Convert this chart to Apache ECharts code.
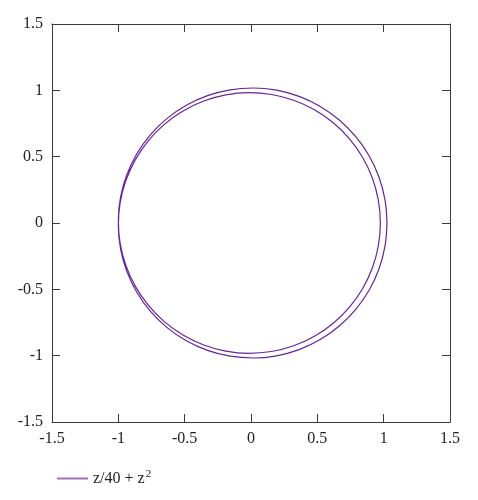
<!DOCTYPE html>
<html>
<head>
<meta charset="utf-8">
<script src="https://cdn.jsdelivr.net/npm/echarts@6/dist/echarts.min.js"></script>
<style>html,body{margin:0;padding:0;background:#fff}#c{width:478px;height:500px}</style>
</head>
<body>
<div id="c"></div>
<script>
// Points (x, y), traversed in order
const curveX = [1.025, 1.0097, 0.9643, 0.8902, 0.7895, 0.6655, 0.5217, 0.3625, 0.1928, 0.0177, -0.1576, -0.3277, -0.4875, -0.6322, -0.7575, -0.8596, -0.9353, -0.9826, -1.0, -0.9870, -0.9440, -0.8725, -0.7746, -0.6534, -0.5125, -0.3564, -0.1897, -0.0177, 0.1545, 0.3215, 0.4783, 0.6201, 0.7425, 0.8419, 0.9151, 0.9599, 0.975,
  0.9599, 0.9151, 0.8419, 0.7425, 0.6201, 0.4783, 0.3215, 0.1545, -0.0177, -0.1897, -0.3564, -0.5125, -0.6534, -0.7746, -0.8725, -0.9440, -0.9870, -1.0, -0.9826, -0.9353, -0.8596, -0.7575, -0.6322, -0.4875, -0.3277, -0.1576, 0.0177, 0.1928, 0.3625, 0.5217, 0.6655, 0.7895, 0.8902, 0.9643, 1.0097, 1.025];
const curveY = [0, 0.1758, 0.3463, 0.5065, 0.6513, 0.7766, 0.8785, 0.9540, 1.0009, 1.0177, 1.0040, 0.9602, 0.8877, 0.7887, 0.6663, 0.5242, 0.3666, 0.1986, 0.025, -0.1488, -0.3174, -0.4759, -0.6193, -0.7434, -0.8444, -0.9192, -0.9657, -0.9823, -0.9687, -0.9254, -0.8535, -0.7555, -0.6342, -0.4935, -0.3377, -0.1715, 0,
  0.1715, 0.3377, 0.4935, 0.6342, 0.7555, 0.8535, 0.9254, 0.9687, 0.9823, 0.9657, 0.9192, 0.8444, 0.7434, 0.6193, 0.4759, 0.3174, 0.1488, -0.025, -0.1986, -0.3666, -0.5242, -0.6663, -0.7887, -0.8877, -0.9602, -1.0040, -1.0177, -1.0009, -0.9540, -0.8785, -0.7766, -0.6513, -0.5065, -0.3463, -0.1758, 0];
const xTicks = [-1.5, -1, -0.5, 0, 0.5, 1, 1.5];
const yTicks = [-1.5, -1, -0.5, 0, 0.5, 1, 1.5];
const seriesName = 'z/40 + z2';

const font = '"Liberation Serif", "DejaVu Serif", serif';
const axisCol = '#3a3a3a';
const data = curveX.map((x, i) => [x, curveY[i]]);

function mkAxis(pos, show, isX) {
  const t = isX ? xTicks : yTicks;
  return {
    type: 'value', position: pos, min: t[0], max: t[t.length - 1], interval: 0.5,
    axisLine: { show: true, onZero: false, lineStyle: { color: axisCol, width: 1 } },
    axisTick: { show: true, inside: true, length: 8, lineStyle: { color: axisCol, width: 1 } },
    axisLabel: { show: show, color: '#222', fontFamily: font, fontSize: 16, margin: 9 },
    splitLine: { show: false }
  };
}

const chart = echarts.init(document.getElementById('c'), null, { renderer: 'canvas' });
chart.setOption({
  animation: false,
  backgroundColor: '#fff',
  grid: { left: 52, right: 28, top: 24, bottom: 78, containLabel: false },
  xAxis: [mkAxis('bottom', true, true), mkAxis('top', false, true)],
  yAxis: [mkAxis('left', true, false), mkAxis('right', false, false)],
  legend: {
    left: 52, top: 464, icon: 'rect', itemWidth: 31, itemHeight: 2, itemGap: 10,
    formatter: () => '{a|z/40 + z}{b|2}',
    textStyle: {
      fontFamily: font, color: '#222',
      rich: { a: { fontFamily: font, fontSize: 16, color: '#222' }, b: { fontFamily: font, fontSize: 11, color: '#222', padding: [0, 0, 8, 1] } }
    },
    data: [{ name: seriesName, itemStyle: { color: '#9a70bc' } }]
  },
  series: [{
    name: seriesName, type: 'line', data: data, smooth: 0.4, showSymbol: false,
    lineStyle: { color: '#66239a', width: 1.2 }, itemStyle: { color: '#66239a' }
  }]
});
</script>
</body>
</html>
